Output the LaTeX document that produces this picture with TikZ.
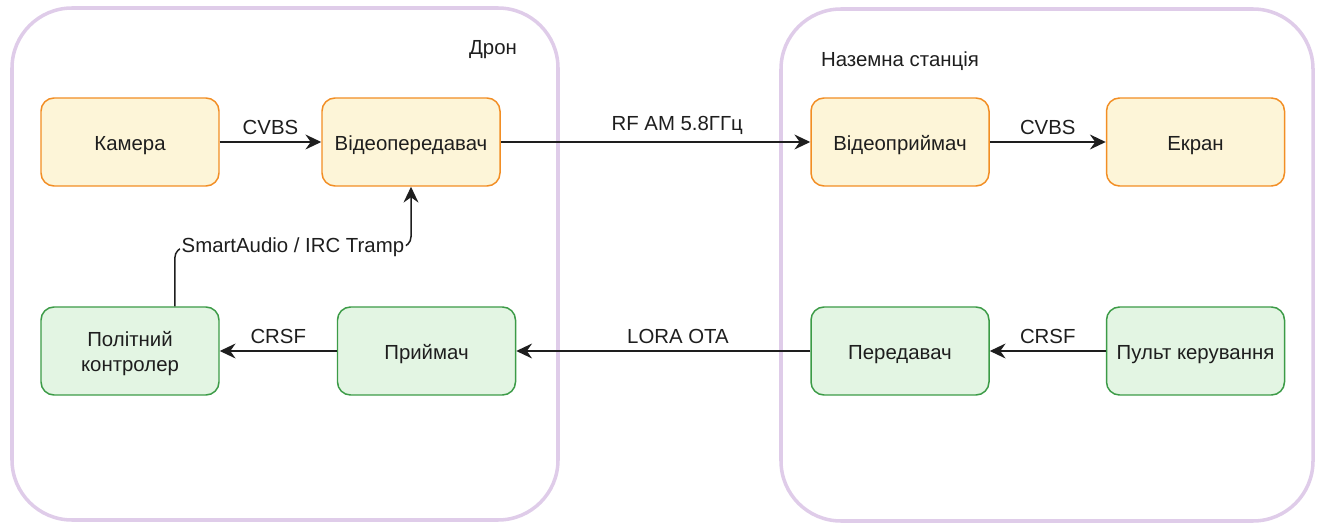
\documentclass[tikz,border=0pt]{standalone}
\usepackage{fontspec}
\setmainfont{Liberation Sans}
\usepackage{tikz}
\usetikzlibrary{arrows.meta,calc}
\definecolor{pomarancheva}{HTML}{F28E24}
\definecolor{svitloZhovta}{HTML}{FDF5D8}
\definecolor{zelena}{HTML}{3C9B47}
\definecolor{svitloZelena}{HTML}{E3F5E3}
\definecolor{buzkova}{HTML}{DFCCE9}
\definecolor{temnoSira}{HTML}{1E1E1E}

\begin{document}
\begin{tikzpicture}[
  tekst/.style={text=temnoSira,font=\fontsize{11.6}{14.2}\selectfont},
  blok/.style={tekst,draw,rounded corners=0.26cm,minimum width=3.56cm,minimum height=1.76cm,
    line width=0.85pt,align=center,text height=12pt,text depth=1.8pt},
  videoBlok/.style={blok,draw=pomarancheva,fill=svitloZhovta},
  keruvBlok/.style={blok,draw=zelena,fill=svitloZelena},
  zona/.style={draw=buzkova,line width=2pt,rounded corners=1.2cm},
  zvjazok/.style={draw=temnoSira,line width=0.85pt,-{Stealth[length=9pt,width=8.5pt,inset=3pt]}},
  pidpys/.style={tekst,above=3pt,inner sep=1pt}
]
\useasboundingbox (0,0) rectangle (26.46,-10.6);
\draw[zona] (0.24,-0.16) rectangle (11.16,-10.4);
\draw[zona] (15.62,-0.18) rectangle (26.26,-10.42);
\node[tekst] (dron) at (9.86,-0.99) {Дрон};
\node[tekst] (stantsiya) at (18.0,-1.23) {Наземна станція};

\node[videoBlok] (kamera) at (2.6,-2.84) {Камера};
\node[videoBlok] (vtx) at (8.22,-2.84) {Відеопередавач};
\node[videoBlok] (vrx) at (18.0,-2.84) {Відеоприймач};
\node[videoBlok] (ekran) at (23.91,-2.84) {Екран};
\node[keruvBlok,text height=23.8pt,text depth=0pt] (pk) at (2.6,-7.02) {Політний\\контролер};
\node[keruvBlok] (rx) at (8.53,-7.02) {Приймач};
\node[keruvBlok] (tx) at (18.0,-7.02) {Передавач};
\node[keruvBlok] (pult) at (23.91,-7.02) {Пульт керування};

\draw[zvjazok] (kamera) -- node[pidpys,midway] {CVBS} (vtx);
\draw[zvjazok] (vtx) -- node[pidpys,pos=0.57] {RF AM 5.8ГГц} (vrx);
\draw[zvjazok] (vrx) -- node[pidpys,midway] {CVBS} (ekran);
\draw[zvjazok] (pult) -- node[pidpys,midway] {CRSF} (tx);
\draw[zvjazok] (tx) -- node[pidpys,pos=0.45] {LORA OTA} (rx);
\draw[zvjazok] (rx) -- node[pidpys,midway] {CRSF} (pk);
\draw[zvjazok,rounded corners=6pt] ($(pk.north west)!0.75!(pk.north east)$) -- ++(0,1.18)
  -| node[tekst,pos=0.25,fill=white,inner sep=1pt] {SmartAudio / IRC Tramp} (vtx.south);
\end{tikzpicture}
\end{document}
